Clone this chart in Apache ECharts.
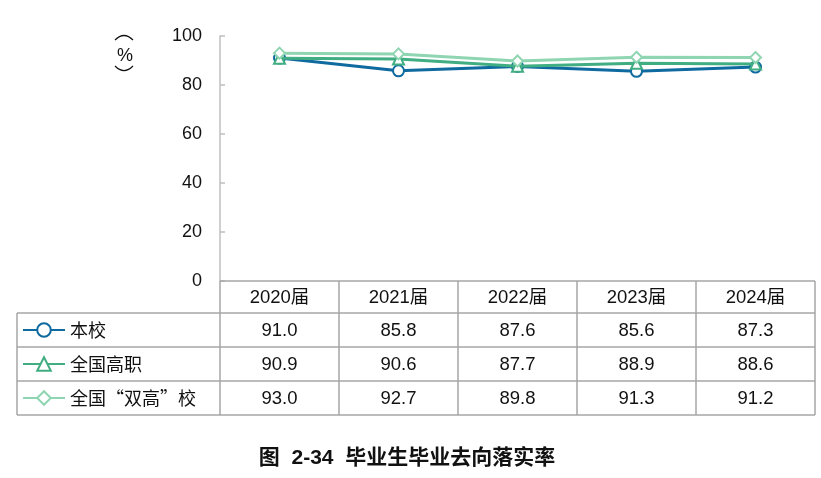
<!DOCTYPE html>
<html><head><meta charset="utf-8">
<script src="https://cdn.jsdelivr.net/npm/echarts@6/dist/echarts.min.js"></script>
<style>html,body{margin:0;padding:0;background:#fff}#c{width:821px;height:478px}</style>
</head><body><div id="c"></div>
<script>
const categories = ['2020届','2021届','2022届','2023届','2024届'];
const seriesNames = ['本校','全国高职','全国“双高”校'];
const benxiao = [91.0, 85.8, 87.6, 85.6, 87.3];
const gaozhi = [90.9, 90.6, 87.7, 88.9, 88.6];
const shuanggao = [93.0, 92.7, 89.8, 91.3, 91.2];
const yTicks = [0, 20, 40, 60, 80, 100];
const colors = ['#0f6aa0', '#41ad82', '#8fd5b2'];
const symbols = ['emptyCircle', 'emptyTriangle', 'emptyDiamond'];
const allData = [benxiao, gaozhi, shuanggao];

const FONT = '"Liberation Sans", Arial, "Noto Sans CJK SC", sans-serif';
const CJK = '"Noto Sans CJK SC", sans-serif';
const chart = echarts.init(document.getElementById('c'));
const G = {left: 220, right: 6, top: 36, bottom: 197};
chart.setOption({
  animation: false,
  textStyle: {fontFamily: FONT},
  grid: {left: G.left, right: G.right, top: G.top, bottom: G.bottom, containLabel: false},
  legend: {
    orient: 'vertical', left: 17, top: 315, itemGap: 14, itemWidth: 42, itemHeight: 17,
    textStyle: {fontSize: 18, color: '#111', fontFamily: CJK, lineHeight: 20},
    data: seriesNames
  },
  xAxis: {
    type: 'category', data: categories, boundaryGap: true,
    axisLine: {show: false}, axisTick: {show: false}, axisLabel: {show: false}
  },
  yAxis: {
    type: 'value', min: yTicks[0], max: yTicks[yTicks.length-1], interval: 20,
    axisLine: {show: true, lineStyle: {color: '#bfbfbf', width: 1.5}},
    axisTick: {show: true, inside: true, length: 5, lineStyle: {color: '#bfbfbf', width: 1.5}},
    splitLine: {show: false},
    axisLabel: {fontSize: 18, color: '#111', margin: 18, fontFamily: FONT}
  },
  series: seriesNames.map((n, i) => ({
    name: n, type: 'line', data: allData[i], symbol: symbols[i], symbolSize: 11,
    z: 2 + i,
    lineStyle: {color: colors[i], width: 3},
    itemStyle: {color: colors[i], borderColor: colors[i], borderWidth: 3}
  }))
});

function build() {
  const g = [];
  const xs = categories.map((c, i) => chart.convertToPixel({xAxisIndex: 0}, i));
  const colW = xs.length > 1 ? xs[1] - xs[0] : 120;
  const left = G.left, right = 821 - G.right;
  const y0 = chart.convertToPixel({yAxisIndex: 0}, 0);
  const rowH = 34, headH = 32;
  const tableLeft = 17;
  const line = (x1, y1, x2, y2) => g.push({type: 'line', shape: {x1, y1, x2, y2}, style: {stroke: '#a6a6a6', lineWidth: 1.5}, z: 1});
  const text = (x, y, t, opt) => g.push(Object.assign({type: 'text', x, y, style: Object.assign({text: t, fill: '#111', font: '18.5px ' + FONT, align: 'center', verticalAlign: 'middle'}, opt || {}), z: 5}));
  line(left, y0, right, y0);
  const rows = [y0 + headH, y0 + headH + rowH, y0 + headH + 2 * rowH, y0 + headH + 3 * rowH];
  rows.forEach(y => line(tableLeft, y, right, y));
  line(tableLeft, rows[0], tableLeft, rows[3]);
  for (let i = 0; i <= categories.length; i++) {
    const x = left + i * colW;
    line(x, y0, x, rows[3]);
  }
  categories.forEach((c, i) => text(xs[i], y0 + headH / 2 + 1, c));
  allData.forEach((arr, r) => arr.forEach((v, i) => text(xs[i], rows[r] + rowH / 2 + 1, v.toFixed(1))));
  // unit label (vertical parentheses)
  g.push({type: 'bezierCurve', shape: {x1: 115, y1: 40, x2: 133, y2: 40, cpx1: 124, cpy1: 31}, style: {stroke: '#111', lineWidth: 1.2, fill: null}});
  text(125, 56, '%', {font: '18px ' + FONT});
  g.push({type: 'bezierCurve', shape: {x1: 115, y1: 66, x2: 133, y2: 66, cpx1: 124, cpy1: 75}, style: {stroke: '#111', lineWidth: 1.2, fill: null}});
  // caption
  text(407, 458, '图  2-34  毕业生毕业去向落实率', {font: 'bold 21px ' + FONT});
  chart.setOption({graphic: g});
}
build();
</script></body></html>
